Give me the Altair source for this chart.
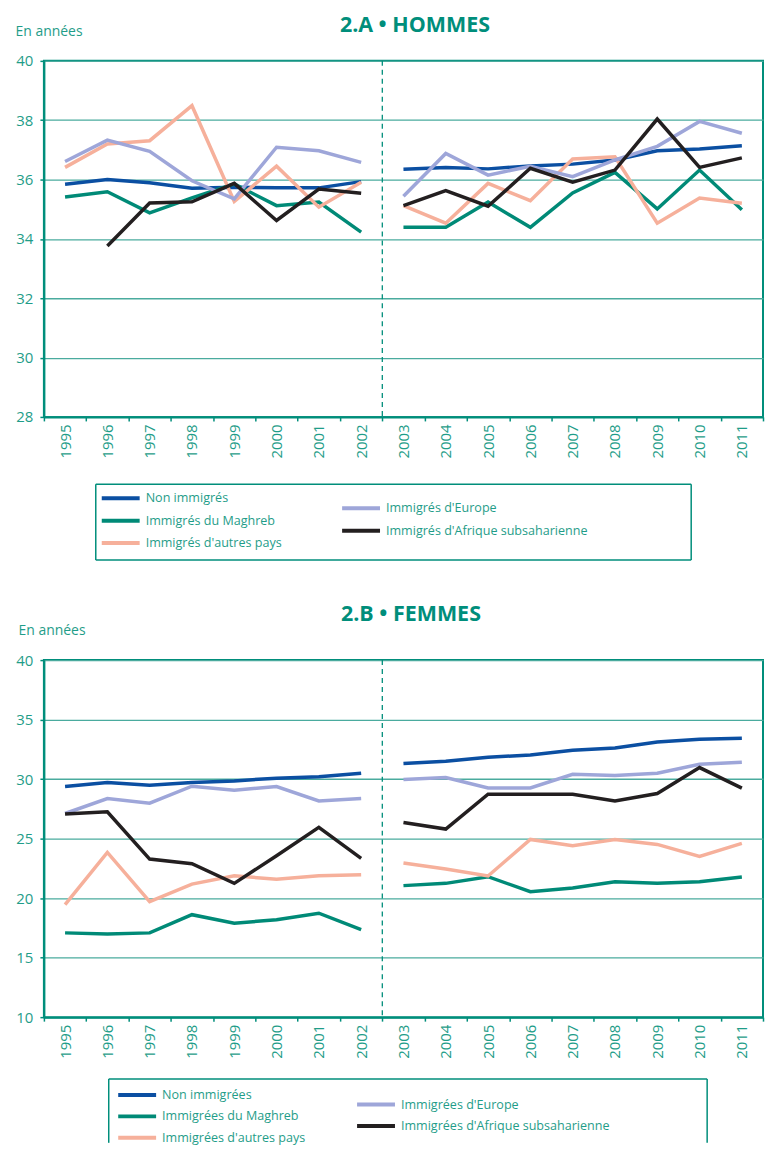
import altair as alt
import pandas as pd

years = [str(y) for y in range(1995, 2012)]
break_year = "2003"

series_h = ["Non immigrés", "Immigrés du Maghreb", "Immigrés d'autres pays",
            "Immigrés d'Europe", "Immigrés d'Afrique subsaharienne"]
series_f = ["Non immigrées", "Immigrées du Maghreb", "Immigrées d'autres pays",
            "Immigrées d'Europe", "Immigrées d'Afrique subsaharienne"]
colors = ["#0b4fa2", "#008a77", "#f6b09b", "#9ea6d9", "#231f20"]

# 2.A Hommes
h_non = [35.84, 36.0, 35.89, 35.71, 35.74, 35.72, 35.72, 35.93,
         36.35, 36.41, 36.36, 36.46, 36.52, 36.66, 36.97, 37.03, 37.14]
h_maghreb = [35.41, 35.59, 34.88, 35.38, 35.85, 35.12, 35.24, 34.23,
             34.39, 34.39, 35.24, 34.39, 35.55, 36.24, 35.01, 36.32, 34.98]
h_autres = [36.41, 37.2, 37.31, 38.49, 35.26, 36.45, 35.07, 35.91,
            35.12, 34.53, 35.87, 35.29, 36.69, 36.77, 34.53, 35.38, 35.2]
h_europe = [36.61, 37.33, 36.95, 35.96, 35.35, 37.09, 36.97, 36.58,
            35.44, 36.88, 36.15, 36.45, 36.1, 36.66, 37.12, 37.96, 37.56]
h_afrique = [None, 33.76, 35.21, 35.25, 35.87, 34.62, 35.68, 35.54,
             35.12, 35.63, 35.1, 36.38, 35.91, 36.32, 38.04, 36.41, 36.73]

# 2.B Femmes
f_non = [29.38, 29.71, 29.49, 29.71, 29.85, 30.08, 30.19, 30.5,
         31.31, 31.5, 31.84, 32.03, 32.42, 32.62, 33.12, 33.35, 33.43]
f_maghreb = [17.08, 16.99, 17.08, 18.61, 17.89, 18.19, 18.73, 17.36,
             21.05, 21.24, 21.8, 20.54, 20.85, 21.38, 21.24, 21.38, 21.77]
f_autres = [19.45, 23.84, 19.7, 21.18, 21.88, 21.58, 21.88, 21.97,
            22.95, 22.44, 21.86, 24.93, 24.4, 24.93, 24.51, 23.51, 24.6]
f_europe = [27.11, 28.37, 27.98, 29.4, 29.07, 29.38, 28.17, 28.37,
            29.96, 30.13, 29.26, 29.26, 30.41, 30.3, 30.49, 31.25, 31.42]
f_afrique = [27.06, 27.25, 23.28, 22.89, 21.24, 23.56, 25.94, 23.34,
             26.36, 25.8, 28.73, 28.73, 28.73, 28.17, 28.79, 30.97, 29.24]

legend_col = [0, 0, 0, 1, 1]
legend_row = [0, 1, 2, 0.45, 1.45]

TEAL = "#008e7b"
TEAL_TXT = "#1f9d89"
GRID = "#4aab9e"
FONT = "Open Sans"
PLOT_W = 721


def long_df(names, arrays):
    rows = []
    for name, vals in zip(names, arrays):
        for y, v in zip(years, vals):
            if v is None:
                continue
            rows.append({"year": y, "value": v, "series": name,
                         "period": "avant" if int(y) < int(break_year) else "apres"})
    return pd.DataFrame(rows)


def panel(df, names, title, title_dx, title_offset, ydomain, yvalues, height, tx, ty):
    xenc = alt.X("year:O",
                 scale=alt.Scale(type="band", domain=years, paddingInner=0, paddingOuter=0),
                 bandPosition=0.5,
                 axis=alt.Axis(title=None, labelAngle=270, tickBand="extent", tickSize=4,
                               labelPadding=3, labelFontSize=15, grid=False))
    yenc = alt.Y("value:Q",
                 scale=alt.Scale(domain=ydomain, nice=False, zero=False),
                 axis=alt.Axis(values=yvalues, title="En années", titleAngle=0,
                               titleAlign="left", titleBaseline="alphabetic",
                               titleX=tx, titleY=ty, titleFontSize=14,
                               titleFontWeight="normal", titleColor=TEAL_TXT,
                               grid=True, tickSize=4, labelPadding=7, labelFontSize=15))
    lines = alt.Chart(df).mark_line(strokeWidth=3.5).encode(
        x=xenc, y=yenc,
        color=alt.Color("series:N", scale=alt.Scale(domain=names, range=colors), legend=None),
        detail="period:N",
    )
    sep = alt.Chart(pd.DataFrame({"year": [break_year]})).mark_rule(
        strokeDash=[5, 4], strokeWidth=1.3, color=TEAL
    ).encode(x=alt.X("year:O", bandPosition=0))
    return alt.layer(lines, sep).properties(
        width=PLOT_W, height=height,
        title=alt.TitleParams(title, fontSize=21.5, fontWeight="bold", color=TEAL,
                              anchor="middle", dx=title_dx, offset=title_offset, font=FONT),
    )


def legend(names, box_left, box_w, box_h, col_range, row_range, closed):
    bdf = pd.DataFrame({"b": [0]})
    sides = [
        alt.Chart(bdf).mark_rule(stroke=TEAL, strokeWidth=1.5).encode(
            x=alt.value(box_left), x2=alt.value(box_left + box_w), y=alt.value(0)),
        alt.Chart(bdf).mark_rule(stroke=TEAL, strokeWidth=1.5).encode(
            x=alt.value(box_left), y=alt.value(0), y2=alt.value(box_h)),
        alt.Chart(bdf).mark_rule(stroke=TEAL, strokeWidth=1.5).encode(
            x=alt.value(box_left + box_w), y=alt.value(0), y2=alt.value(box_h)),
    ]
    if closed:
        sides.append(alt.Chart(bdf).mark_rule(stroke=TEAL, strokeWidth=1.5).encode(
            x=alt.value(box_left), x2=alt.value(box_left + box_w), y=alt.value(box_h)))
    ldf = pd.DataFrame({"series": names, "col": legend_col, "row": legend_row})
    xs = alt.X("col:Q", scale=alt.Scale(domain=[0, 1], range=col_range), axis=None)
    ys = alt.Y("row:Q", scale=alt.Scale(domain=[0, 2], range=row_range), axis=None)
    sw = alt.Chart(ldf).mark_point(shape="stroke", size=1444, strokeWidth=4,
                                   filled=False, opacity=1).encode(
        x=xs, y=ys,
        color=alt.Color("series:N", scale=alt.Scale(domain=names, range=colors), legend=None),
    )
    txt = alt.Chart(ldf).mark_text(align="left", baseline="middle", dx=25, fontSize=12.6,
                                   color=TEAL_TXT, font=FONT).encode(x=xs, y=ys, text="series:N")
    return alt.layer(*sides, sw, txt).properties(
        width=PLOT_W, height=box_h, view=alt.ViewBackground(stroke="transparent")
    )


df_h = long_df(series_h, [h_non, h_maghreb, h_autres, h_europe, h_afrique])
df_f = long_df(series_f, [f_non, f_maghreb, f_autres, f_europe, f_afrique])

pA = panel(df_h, series_h, "2.A • HOMMES", 11.5, -12.6, [28, 40], list(range(28, 41, 2)), 357, -29, -25.6)
lA = legend(series_h, 52, 597, 76, [77, 318], [14, 59], True)
pB = panel(df_f, series_f, "2.B • FEMMES", 7.5, -1.5, [10, 40], list(range(10, 41, 5)), 358, -26, -25.3)
lB = legend(series_f, 65, 600, 64, [93.5, 333], [16, 59], False)

top = alt.vconcat(pA, lA, spacing=22.5).resolve_scale(x="independent", y="independent", color="independent")
bot = alt.vconcat(pB, lB, spacing=17).resolve_scale(x="independent", y="independent", color="independent")

chart = alt.vconcat(top, bot, spacing=39.8).resolve_scale(
    x="independent", y="independent", color="independent"
).properties(
    padding={"left": 6, "top": 4.5, "right": 0, "bottom": 0}
).configure(font=FONT).configure_view(
    stroke=TEAL, strokeWidth=2
).configure_axis(
    domainColor=TEAL, domainWidth=2, tickColor=TEAL, tickWidth=1.5,
    labelColor=TEAL_TXT, gridColor=GRID, gridWidth=1.3, labelFont=FONT, titleFont=FONT
)

chart.save("out.html", embed_options={"renderer": "svg", "actions": False})
